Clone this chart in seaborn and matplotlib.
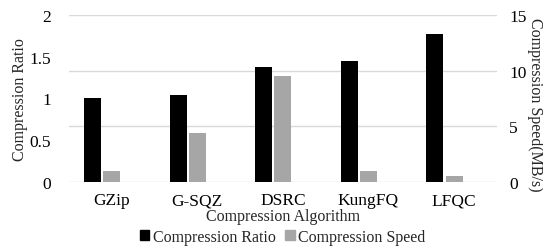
import matplotlib
matplotlib.use("Agg")
import matplotlib.pyplot as plt
import seaborn as sns
import pandas as pd
from matplotlib.patches import Patch

algorithms = ["GZip", "G-SQZ", "DSRC", "KungFQ", "LFQC"]
compression_ratio = [1.00, 1.04, 1.38, 1.45, 1.77]
compression_speed = [1.0, 4.4, 9.5, 1.0, 0.55]
ratio_ticks = [0, 0.5, 1, 1.5, 2]
ratio_tick_labels = ["0", "0.5", "1", "1.5", "2"]
speed_ticks = [0, 5, 10, 15]

sns.set_theme(style="white")
plt.rcParams["font.family"] = ["Liberation Serif", "DejaVu Serif"]

BLACK = "#000000"
GRAY = "#a6a6a6"
levels = ["Compression Ratio", "Compression Speed", "_pad"]
palette = {"Compression Ratio": BLACK, "Compression Speed": GRAY, "_pad": "white"}

df_ratio = pd.DataFrame({"Algorithm": algorithms, "value": compression_ratio,
                         "Series": "Compression Ratio"})
df_speed = pd.DataFrame({"Algorithm": algorithms, "value": compression_speed,
                         "Series": "Compression Speed"})

FS = 12.5
LFS = 11.5

fig = plt.figure(figsize=(5.43, 2.51), dpi=100)
ax = fig.add_axes([0.127, 0.2697, 0.788, 0.668])
ax2 = ax.twinx()

sns.barplot(data=df_speed, x="Algorithm", y="value", hue="Series", hue_order=levels,
            palette=palette, order=algorithms, width=0.675, gap=0.12, dodge=True,
            ax=ax2, legend=False, errorbar=None, linewidth=0, saturation=1)
sns.barplot(data=df_ratio, x="Algorithm", y="value", hue="Series", hue_order=levels,
            palette=palette, order=algorithms, width=0.675, gap=0.12, dodge=True,
            ax=ax, legend=False, errorbar=None, linewidth=0, saturation=1)

ax.set_zorder(ax2.get_zorder() + 1)
ax.patch.set_visible(False)

ax.set_ylim(0, 2)
ax2.set_ylim(0, 15)
ax.set_xlim(-0.5, 4.5)
ax.set_yticks(ratio_ticks)
ax.set_yticklabels(ratio_tick_labels)
ax2.set_yticks(speed_ticks)

ax2.yaxis.grid(True, color="#d9d9d9", linewidth=1)
ax.yaxis.grid(False)
ax2.set_axisbelow(True)

for a in (ax, ax2):
    for s in a.spines.values():
        s.set_visible(False)
    a.tick_params(length=0, labelsize=FS, colors="#000000")

ax.tick_params(axis="y", pad=13)
ax2.tick_params(axis="y", pad=9)
ax.tick_params(axis="x", pad=7)

ax.set_xlabel("Compression Algorithm", fontsize=LFS, va="center", ha="center")
ax.xaxis.set_label_coords(0.5, -0.20)
ax.set_ylabel("Compression Ratio", fontsize=LFS, va="center", ha="center")
ax.yaxis.set_label_coords(-0.115, 0.5)
ax2.set_ylabel("Compression Speed(MB/s)", fontsize=LFS, rotation=270,
               va="center", ha="center")
ax2.yaxis.set_label_coords(1.09, 0.47)

handles = [Patch(color=BLACK, label="Compression Ratio"),
           Patch(color=GRAY, label="Compression Speed")]
fig.legend(handles=handles, loc="center", bbox_to_anchor=(0.52, 0.052), ncol=2,
           frameon=False, fontsize=LFS, handlelength=0.6, handleheight=0.6,
           handletextpad=0.2, columnspacing=0.6, borderpad=0)

fig.savefig("out.png", dpi=100)
